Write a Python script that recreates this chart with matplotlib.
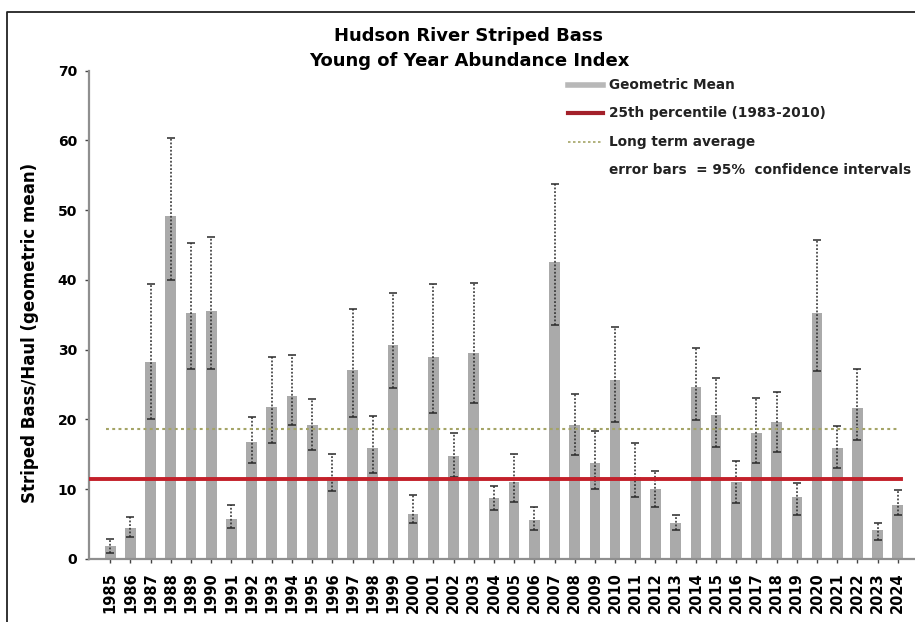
import matplotlib
matplotlib.use("Agg")
import matplotlib.pyplot as plt
from matplotlib.lines import Line2D
import numpy as np

# donnees
annees = [str(a) for a in range(1985, 2025)]
moyenne = [1.9, 4.4, 28.3, 49.1, 35.2, 35.5, 5.8, 16.8, 21.8, 23.3,
           19.2, 11.8, 27.1, 15.9, 30.7, 6.5, 28.9, 14.7, 29.5, 8.7,
           11.1, 5.6, 42.6, 19.2, 13.7, 25.7, 11.8, 10.1, 5.1, 24.7,
           20.6, 11.1, 18.0, 19.7, 8.9, 35.2, 15.9, 21.6, 4.2, 7.7]
borne_haute = [2.9, 6.0, 39.4, 60.4, 45.3, 46.1, 7.8, 20.4, 28.9, 29.2,
               22.9, 15.0, 35.8, 20.5, 38.1, 9.2, 39.4, 18.0, 39.6, 10.5,
               15.1, 7.5, 53.8, 23.6, 18.3, 33.2, 16.6, 12.6, 6.3, 30.3,
               25.9, 14.0, 23.1, 23.9, 10.9, 45.7, 19.0, 27.3, 5.2, 9.9]
borne_basse = [0.8, 3.2, 20.1, 40.0, 27.3, 27.3, 4.4, 13.7, 16.6, 19.2,
               15.6, 9.7, 20.3, 12.3, 24.5, 5.1, 20.9, 11.8, 22.3, 7.0,
               8.2, 4.2, 33.5, 14.9, 10.1, 19.7, 8.9, 7.5, 4.2, 19.9,
               16.1, 8.0, 13.7, 15.4, 6.3, 26.9, 13.0, 17.1, 2.7, 6.3]
percentile_25 = 11.5
moyenne_long_terme = 18.7

plt.rcParams['font.family'] = ['DejaVu Sans']
plt.rcParams['font.weight'] = 'bold'

W, H = 915, 622
fig = plt.figure(figsize=(W / 100, H / 100), dpi=100)
ax = fig.add_axes([89 / W, 1 - 559 / H, 1 - 89 / W, (559 - 70.7) / H])

x = np.arange(len(annees))
m = np.array(moyenne)
err = [m - np.array(borne_basse), np.array(borne_haute) - m]

ax.bar(x, m, width=0.53, color='#aaaaaa', zorder=2)
eb = ax.errorbar(x, m, yerr=err, fmt='none', ecolor='#2a2a2a', elinewidth=1.1,
                 capsize=2.8, capthick=1.1, zorder=3)
for lc in eb.lines[2]:
    lc.set_linestyle((0, (1.2, 1.2)))

# lignes de reference
ax.plot([-1.05, 39.15], [percentile_25, percentile_25], color='#c3202a', lw=2.8, zorder=4)
ax.plot([-0.2, 39.0], [moyenne_long_terme, moyenne_long_terme], color='#a4a466',
        lw=1.5, ls=(0, (1.4, 1.6)), zorder=4)

ax.set_xlim(-1.05, 39.85)
ax.set_ylim(0, 70)
ax.set_yticks(range(0, 71, 10))
ax.set_xticks(x)
ax.set_xticklabels(annees, rotation=90, fontsize=10.5, fontweight='bold')
ax.tick_params(axis='y', labelsize=10, length=3, width=1, color='#444444', pad=5.5)
ax.tick_params(axis='x', length=3, width=1, color='#444444', pad=6.5)
for s in ['top', 'right']:
    ax.spines[s].set_visible(False)
for s in ['left', 'bottom']:
    ax.spines[s].set_color('#8f8f8f')
    ax.spines[s].set_linewidth(1.6)

fig.text(30 / W, 1 - 333 / H, 'Striped Bass/Haul (geometric mean)', rotation=90,
         ha='center', va='center', fontsize=12, fontweight='bold')
fig.text(469 / W, 1 - 36 / H, 'Hudson River Striped Bass', ha='center', va='center',
         fontsize=13, fontweight='bold')
fig.text(469 / W, 1 - 61 / H, 'Young of Year Abundance Index', ha='center', va='center',
         fontsize=13, fontweight='bold')

# legende placee a la main
poignees = [dict(color='#b8b8b8', lw=4),
            dict(color='#a3202a', lw=3),
            dict(color='#a4a466', lw=1.2, ls=(0, (1.5, 1.5))),
            None]
textes = ['Geometric Mean', '25th percentile (1983-2010)', 'Long term average',
          'error bars  = 95%  confidence intervals']
lignes_y = [85, 113, 142, 170]
for p, t, yy in zip(poignees, textes, lignes_y):
    if p is not None:
        fig.add_artist(Line2D([568 / W, 603 / W], [1 - yy / H, 1 - yy / H],
                              transform=fig.transFigure, **p))
    fig.text(609 / W, 1 - yy / H, t, ha='left', va='center', fontsize=9.8,
             fontweight='bold', color='#222222')

# cadre
fig.add_artist(Line2D([7 / W, 7 / W, 1], [0, 1 - 12 / H, 1 - 12 / H],
                      color='#222222', lw=1.3, transform=fig.transFigure))

fig.savefig('out.png', dpi=100)
